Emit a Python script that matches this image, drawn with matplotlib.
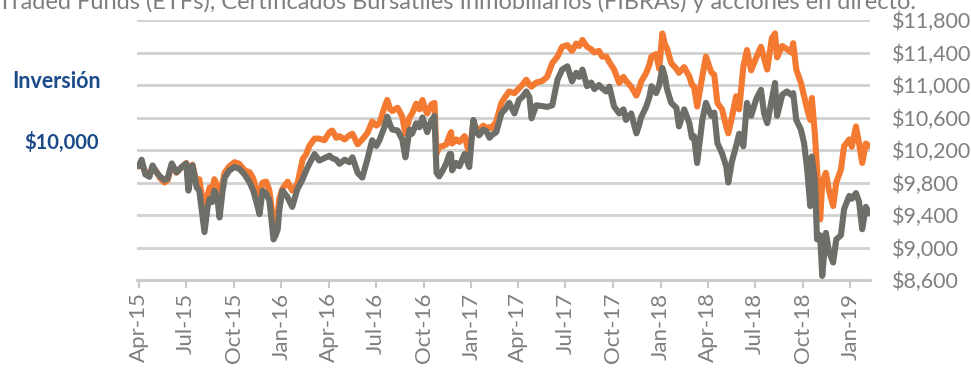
import matplotlib
matplotlib.use("Agg")
import matplotlib.pyplot as plt
import pandas as pd

# Weekly-ish closing values of a $10,000 investment
dates = [
    "2015-04-01", "2015-04-07", "2015-04-14", "2015-04-22", "2015-04-28", "2015-05-06", "2015-05-13",
    "2015-05-21", "2015-05-27", "2015-06-04", "2015-06-13", "2015-06-23", "2015-07-02", "2015-07-06",
    "2015-07-14", "2015-07-22", "2015-07-27", "2015-08-06", "2015-08-12", "2015-08-16", "2015-08-21",
    "2015-08-25", "2015-08-31", "2015-09-04", "2015-09-10", "2015-09-14", "2015-09-23", "2015-10-03",
    "2015-10-12", "2015-10-22", "2015-11-01", "2015-11-08", "2015-11-14", "2015-11-20", "2015-11-26",
    "2015-12-03", "2015-12-09", "2015-12-17", "2015-12-21", "2015-12-25", "2015-12-28", "2016-01-03",
    "2016-01-13", "2016-01-22", "2016-02-01", "2016-02-11", "2016-02-18", "2016-02-24", "2016-03-05",
    "2016-03-14", "2016-03-24", "2016-04-03", "2016-04-08", "2016-04-16", "2016-04-22", "2016-05-02",
    "2016-05-11", "2016-05-17", "2016-05-27", "2016-06-05", "2016-06-15", "2016-06-24", "2016-07-02",
    "2016-07-08", "2016-07-18", "2016-07-23", "2016-07-29", "2016-08-02", "2016-08-12", "2016-08-21",
    "2016-08-27", "2016-09-04", "2016-09-09", "2016-09-17", "2016-09-23", "2016-09-29", "2016-10-04",
    "2016-10-08", "2016-10-16", "2016-10-22", "2016-10-26", "2016-10-31", "2016-11-08", "2016-11-14",
    "2016-11-20", "2016-11-23", "2016-11-25", "2016-12-03", "2016-12-09", "2016-12-19", "2016-12-28",
    "2017-01-05", "2017-01-11", "2017-01-16", "2017-01-24", "2017-01-30", "2017-02-05", "2017-02-09",
    "2017-02-18", "2017-02-28", "2017-03-07", "2017-03-15", "2017-03-25", "2017-04-03", "2017-04-09",
    "2017-04-17", "2017-04-23", "2017-04-27", "2017-05-06", "2017-05-18", "2017-05-27", "2017-06-06",
    "2017-06-16", "2017-06-25", "2017-07-05", "2017-07-14", "2017-07-22", "2017-07-28", "2017-08-03",
    "2017-08-12", "2017-08-20", "2017-08-26", "2017-09-04", "2017-09-10", "2017-09-18", "2017-09-24",
    "2017-10-03", "2017-10-13", "2017-10-21", "2017-10-26", "2017-11-05", "2017-11-15", "2017-11-20",
    "2017-11-24", "2017-12-04", "2017-12-10", "2017-12-14", "2017-12-23", "2017-12-29", "2018-01-04",
    "2018-01-09", "2018-01-13", "2018-01-21", "2018-01-31", "2018-02-05", "2018-02-15", "2018-02-25",
    "2018-03-02", "2018-03-06", "2018-03-12", "2018-03-22", "2018-03-29", "2018-04-08", "2018-04-14",
    "2018-04-20", "2018-04-29", "2018-05-07", "2018-05-11", "2018-05-18", "2018-05-26", "2018-06-01",
    "2018-06-09", "2018-06-16", "2018-06-24", "2018-07-04", "2018-07-13", "2018-07-19", "2018-07-25",
    "2018-08-03", "2018-08-09", "2018-08-13", "2018-08-23", "2018-09-01", "2018-09-09", "2018-09-13",
    "2018-09-19", "2018-09-28", "2018-10-04", "2018-10-10", "2018-10-16", "2018-10-19", "2018-10-25",
    "2018-10-29", "2018-11-04", "2018-11-08", "2018-11-15", "2018-11-21", "2018-11-29", "2018-12-05",
    "2018-12-14", "2018-12-20", "2018-12-30", "2019-01-04", "2019-01-12", "2019-01-18", "2019-01-24",
    "2019-01-31", "2019-02-06",
]

orange_values = [
    10000, 10020, 9930, 9900, 9990, 9930, 9850, 9800, 9830, 10020, 9920, 9990, 10040, 9760,
    10020, 9780, 9840, 9420, 9650, 9740, 9700, 9840, 9750, 9550, 9800, 9925, 10000, 10050,
    10030, 9950, 9925, 9850, 9700, 9650, 9800, 9810, 9700, 9300, 9350, 9400, 9600, 9720,
    9810, 9700, 9780, 10085, 10150, 10250, 10340, 10340, 10320, 10420, 10440, 10350, 10370, 10330,
    10380, 10400, 10270, 10330, 10410, 10550, 10500, 10530, 10730, 10815, 10700, 10680, 10720, 10610,
    10400, 10600, 10650, 10770, 10700, 10815, 10700, 10650, 10760, 10780, 10150, 10240, 10250, 10270,
    10380, 10420, 10280, 10330, 10300, 10370, 10150, 10550, 10450, 10450, 10500, 10470, 10480, 10470,
    10550, 10780, 10850, 10920, 10900, 10960, 11000, 11065, 11000, 10980, 11030, 11050, 11100, 11270,
    11350, 11470, 11490, 11420, 11510, 11480, 11555, 11470, 11440, 11400, 11420, 11350, 11350, 11280,
    11190, 11025, 11100, 11050, 10980, 10870, 10950, 11040, 11150, 11250, 11350, 11380, 11200, 11635,
    11500, 11450, 11270, 11200, 11150, 11220, 11105, 11000, 10985, 10735, 11105, 11350, 11160, 11125,
    10780, 10700, 10490, 10405, 10600, 10860, 10700, 11225, 11430, 11180, 11340, 11470, 11330, 11190,
    11575, 11635, 11340, 11480, 11440, 11400, 11515, 11190, 11025, 10860, 10700, 10570, 10840, 10380,
    9960, 9345, 9800, 9920, 9700, 9510, 9800, 9960, 10245, 10330, 10240, 10490, 10280, 10040,
    10280, 10250,
]

gray_values = [
    10000, 10080, 9900, 9870, 10010, 9920, 9870, 9830, 9850, 10035, 9925, 9990, 10035, 9700,
    10010, 9740, 9700, 9190, 9500, 9600, 9560, 9700, 9600, 9370, 9700, 9860, 9950, 9990,
    9970, 9900, 9800, 9700, 9560, 9410, 9700, 9660, 9580, 9100, 9150, 9220, 9450, 9700,
    9620, 9500, 9720, 9840, 9950, 10030, 10150, 10070, 10100, 10130, 10100, 10080, 10030, 10080,
    10050, 10110, 9920, 9860, 10090, 10320, 10250, 10320, 10490, 10610, 10500, 10450, 10440, 10330,
    10110, 10450, 10400, 10530, 10480, 10600, 10500, 10420, 10560, 10620, 9920, 9875, 9960, 10040,
    10150, 10150, 9950, 10040, 10000, 10150, 9990, 10570, 10420, 10380, 10450, 10430, 10350, 10380,
    10420, 10650, 10700, 10780, 10650, 10820, 10850, 10920, 10850, 10590, 10750, 10740, 10730, 10750,
    11065, 11190, 11230, 11045, 11150, 11100, 11190, 10985, 11030, 10950, 11000, 10960, 10920, 10980,
    10735, 10650, 10700, 10570, 10650, 10405, 10500, 10600, 10735, 10850, 10985, 10900, 11000, 11210,
    11100, 10950, 10780, 10720, 10490, 10700, 10530, 10350, 10370, 10040, 10570, 10780, 10620, 10660,
    10285, 10160, 10000, 9800, 10060, 10245, 10400, 10245, 10780, 10620, 10830, 10940, 10650, 10530,
    10830, 11025, 10620, 10880, 10920, 10880, 10900, 10570, 10450, 10285, 9960, 9510, 10120, 9800,
    9100, 9150, 8650, 9180, 8950, 8815, 9100, 9150, 9470, 9635, 9600, 9670, 9560, 9225,
    9500, 9420,
]

y_ticks = [8600, 9000, 9400, 9800, 10200, 10600, 11000, 11400, 11800]
x_ticks = ["2015-04-01", "2015-07-01", "2015-10-01", "2016-01-01", "2016-04-01", "2016-07-01",
           "2016-10-01", "2017-01-01", "2017-04-01", "2017-07-01", "2017-10-01", "2018-01-01",
           "2018-04-01", "2018-07-01", "2018-10-01", "2019-01-01"]

FONT = ["Lato", "DejaVu Sans"]
plt.rcParams["font.family"] = FONT

ORANGE = "#F47A32"
DARK = "#6E6E69"
GRID = "#D0D0D0"
LABEL = "#7F7F7F"
NAVY = "#1B4A8A"

W, H = 971, 370
fig = plt.figure(figsize=(W / 100, H / 100), dpi=100)
ax = fig.add_axes([137 / W, 1 - 280 / H, (870 - 137) / W, (280 - 20) / H])

d = pd.to_datetime(dates)
ax.plot(d, orange_values, color=ORANGE, lw=4.4, solid_joinstyle="round", solid_capstyle="round", zorder=3)
ax.plot(d, gray_values, color=DARK, lw=4.4, solid_joinstyle="round", solid_capstyle="round", zorder=4)

ax.set_ylim(y_ticks[0], y_ticks[-1])
ax.set_xlim(pd.Timestamp("2015-03-29"), pd.Timestamp("2019-02-08"))

ax.set_yticks(y_ticks)
ax.set_yticklabels([f"${v:,}" for v in y_ticks])
ax.yaxis.tick_right()
ax.tick_params(axis="y", length=0, pad=16, labelsize=15.5, labelcolor=LABEL)
for v in y_ticks[1:]:
    ax.axhline(v, color=GRID, lw=2, zorder=1)

xt = pd.to_datetime(x_ticks)
ax.set_xticks(xt)
ax.set_xticklabels([t.strftime("%b-%y") for t in xt], rotation=90, va="top", ha="center")
ax.tick_params(axis="x", length=6, width=1.5, color="#C8C8C8", pad=3, labelsize=16, labelcolor=LABEL)

for s in ("top", "left", "right"):
    ax.spines[s].set_visible(False)
ax.spines["bottom"].set_color("#C8C8C8")
ax.spines["bottom"].set_linewidth(2)

fig.text(-2 / W, 1 - 9 / H,
         "Traded Funds (ETFs), Certificados Bursátiles Inmobiliarios (FIBRAs) y acciones en directo.",
         ha="left", va="baseline", fontsize=17, color=LABEL)
fig.text(57 / W, 1 - 82 / H, "Inversión", ha="center", va="center",
         fontsize=15.5, fontweight="bold", color=NAVY)
fig.text(62 / W, 1 - 142 / H, "$10,000", ha="center", va="center",
         fontsize=14.5, fontweight="bold", color=NAVY)

fig.savefig("out.png", dpi=100)
